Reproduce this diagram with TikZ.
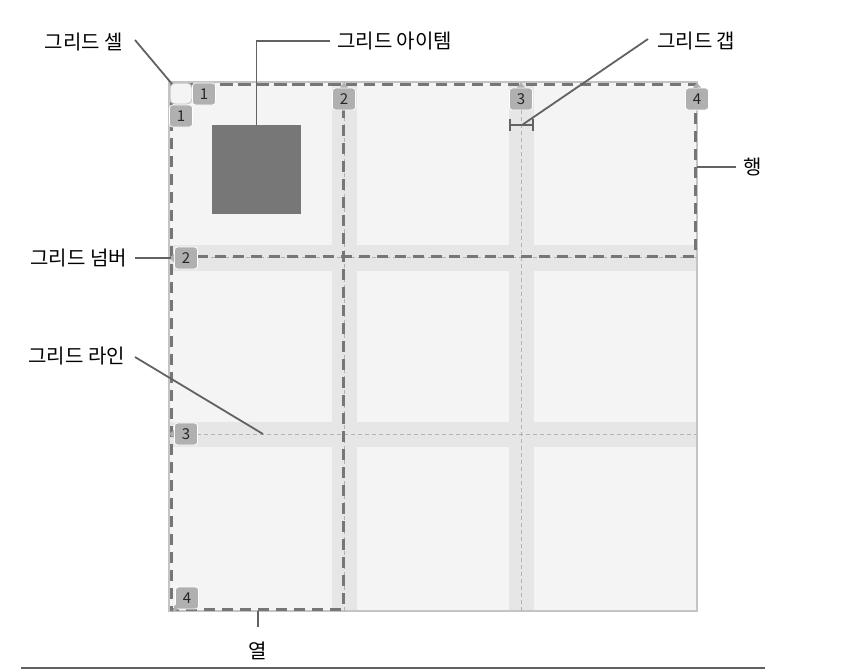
\documentclass[tikz,border=0pt]{standalone}
\usepackage{fontspec}
\setmainfont{Noto Sans CJK KR}
\usetikzlibrary{positioning}
\definecolor{gridbg}{HTML}{F4F4F4}
\definecolor{bordergray}{HTML}{C4C4C4}
\definecolor{gapgray}{HTML}{E6E6E6}
\definecolor{thingray}{HTML}{B2B2B2}
\definecolor{dashgray}{HTML}{767676}
\definecolor{itemgray}{HTML}{777777}
\definecolor{linegray}{HTML}{626262}
\definecolor{numgray}{HTML}{B0B0B0}
\begin{document}
\begin{tikzpicture}[x=1pt,y=-1pt,
        lbl/.style={font=\fontsize{20}{24}\selectfont,text=black,inner sep=0pt},
        conn/.style={draw=linegray,line width=1.8pt},
        thinline/.style={draw=thingray,line width=1pt,dash pattern=on 4pt off 3pt},
        boxline/.style={draw=dashgray,line width=3pt,dash pattern=on 11pt off 7pt},
        gnum/.style={fill=numgray,draw=white,line width=0.8pt,rounded corners=3pt,
                minimum width=23pt,minimum height=22pt,inner sep=0pt,
                font=\fontsize{15}{17}\selectfont,text=black!85},
        gitem/.style={fill=itemgray,minimum size=89pt,inner sep=0pt}
    ]
    \useasboundingbox (0,0) rectangle (858,670);
    % grid container and gaps
    \fill [gridbg] (169,82) rectangle (697,611);
    \fill [gapgray] (332,82) rectangle (357,611);
    \fill [gapgray] (509,82) rectangle (534,611);
    \fill [gapgray] (169,245) rectangle (697,271);
    \fill [gapgray] (169,422) rectangle (697,447);
    \draw [bordergray,line width=1.5pt] (169,82) rectangle (697,611);
    \foreach \x in {344,521} \draw [thinline] (\x,82) -- (\x,611);
    \foreach \y in {257,434} \draw [thinline] (169,\y) -- (697,\y);
    % row and column
    \draw [boxline] (171,84) rectangle (695,256);
    \draw [boxline] (171,84) rectangle (343,609);
    \draw [draw=bordergray,fill=gridbg,rounded corners=5pt,line width=1pt] (170,83) rectangle (192,104);
    % item
    \node [gitem] (item) at (256.5,169.5) {};
    % grid numbers
    \node [gnum] (c1) at (204,94) {1};
    \node [gnum] (c2) at (344,99) {2};
    \node [gnum] (c3) at (521,99) {3};
    \node [gnum] (c4) at (697,99) {4};
    \node [gnum] (r1) at (181,116) {1};
    \node [gnum] (r2) at (186,258) {2};
    \node [gnum] (r3) at (186,434) {3};
    \node [gnum] (r4) at (187,598) {4};
    \foreach \n in {c2,c3,c4}
        \fill [numgray] (\n.north) ++(-4,0) -- ++(4,-5) -- ++(4,5) -- cycle;
    \foreach \n in {r2,r3}
        \fill [numgray] (\n.west) ++(0,-4) -- ++(-5,4) -- ++(5,4) -- cycle;
    \fill [numgray] (r4.south west) ++(3,0) -- ++(-6,3) -- ++(3,-8) -- cycle;
    % labels
    \node [lbl,anchor=east] (cell) at (123,42) {그리드 셀};
    \node [lbl,anchor=west] (itemlbl) at (337,41) {그리드 아이템};
    \node [lbl,anchor=west] (gap) at (657,41) {그리드 갭};
    \node [lbl,anchor=east] (number) at (127,258) {그리드 넘버};
    \node [lbl,anchor=east] (line) at (125,356) {그리드 라인};
    \node [lbl,anchor=west] (row) at (743,167) {행};
    \node [lbl] (col) at (258,651) {열};
    \coordinate (cellpt) at (172,84);
    \coordinate (gapl) at (509,125);
    \coordinate (gapr) at (534,125);
    \coordinate (gapc) at (522,125);
    \coordinate (linept) at (263,434);
    \coordinate (rowpt) at (697,167);
    \coordinate (colpt) at (258,611);
    % connectors
    \draw [conn] (cell.east) ++(12,-2) -- (cellpt);
    \draw [conn] (item.north) |- ([xshift=-7pt]itemlbl.west);
    \draw [conn,|-|] (gapl) -- (gapr);
    \draw [conn] ([xshift=-9pt,yshift=2pt]gap.west) -- (gapc);
    \draw [conn] ([xshift=8pt]number.east) -- ([xshift=-3pt]r2.west);
    \draw [conn] ([xshift=10pt,yshift=-1pt]line.east) -- (linept);
    \draw [conn] ([xshift=-7pt]row.west) -- (rowpt);
    \draw [conn] (colpt) -- ++(0,16);
    \draw [linegray,line width=2pt] (21,668) -- (765,668);
\end{tikzpicture}
\end{document}
